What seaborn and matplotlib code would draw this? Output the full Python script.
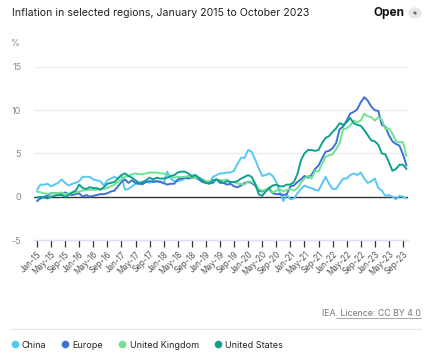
import numpy as np
import pandas as pd
import matplotlib
matplotlib.use("Agg")
import matplotlib.pyplot as plt
from matplotlib.lines import Line2D
from matplotlib.patches import FancyArrowPatch
import seaborn as sns

months = pd.date_range("2015-01-01", "2023-10-01", freq="MS")

china = [0.8,1.4,1.4,1.5,1.2,1.4,1.6,2.0,1.6,1.3,1.5,1.6,
         1.8,2.3,2.3,2.3,2.0,1.9,1.8,1.3,1.9,2.1,2.3,2.1,
         2.5,0.8,0.9,1.2,1.5,1.5,1.4,1.8,1.6,1.9,1.7,1.8,
         1.5,2.9,2.1,1.8,1.8,1.9,2.1,2.3,2.5,2.5,2.2,1.9,
         1.7,1.5,2.3,2.5,2.7,2.7,2.8,2.8,3.0,3.8,4.5,4.5,
         5.4,5.2,4.3,3.3,2.4,2.5,2.7,2.4,1.7,0.5,-0.5,0.2,
         -0.3,-0.2,0.4,0.9,1.3,1.1,1.0,0.8,0.7,1.5,2.3,1.5,
         0.9,0.9,1.5,2.1,2.1,2.5,2.7,2.5,2.8,2.1,1.6,1.8,
         2.1,1.0,0.7,0.1,0.2,0.0,-0.3,0.1,0.0,-0.2]
europe = [-0.5,-0.2,0.0,0.1,0.4,0.4,0.4,0.3,0.5,0.3,0.2,0.3,
          0.4,0.0,0.2,0.0,0.1,0.2,0.3,0.3,0.4,0.6,0.7,1.2,
          1.7,2.0,1.6,1.9,1.6,1.5,1.5,1.7,1.8,1.7,1.8,1.7,
          1.6,1.4,1.5,1.5,2.0,2.1,2.2,2.1,2.2,2.2,2.0,1.7,
          1.6,1.6,1.6,2.0,1.6,1.6,1.4,1.5,1.2,1.1,1.3,1.6,
          1.7,1.6,1.3,0.7,0.6,0.8,0.9,0.4,0.3,0.3,0.2,0.3,
          1.2,1.3,1.7,2.0,2.4,2.2,2.5,3.2,3.6,4.4,5.2,5.3,
          5.6,6.2,7.8,8.1,8.8,9.6,9.8,10.1,10.9,11.5,11.1,10.4,
          10.0,9.9,8.3,8.1,7.1,6.4,6.1,5.9,4.9,3.6]
uk = [0.6,0.5,0.4,0.3,0.4,0.4,0.4,0.5,0.3,0.4,0.4,0.5,
      0.6,0.7,0.8,0.8,0.8,0.8,0.9,0.9,1.0,1.2,1.4,1.7,
      2.0,2.3,2.4,2.6,2.7,2.6,2.6,2.7,2.8,2.8,2.8,2.7,
      2.7,2.5,2.3,2.2,2.3,2.3,2.3,2.4,2.2,2.2,2.2,2.0,
      1.8,1.8,1.8,2.0,1.9,1.9,2.0,1.7,1.7,1.5,1.5,1.4,
      1.8,1.7,1.5,0.9,0.7,0.8,1.1,0.5,0.7,0.9,0.6,0.8,
      0.9,0.7,1.0,1.6,2.1,2.4,2.1,3.0,2.9,3.8,4.6,4.8,
      4.9,5.5,6.2,7.8,7.9,8.2,8.8,8.6,8.8,9.6,9.3,9.2,
      8.8,9.2,8.9,7.8,7.9,7.3,6.4,6.3,6.3,4.7]
us = [-0.1,0.0,-0.1,-0.2,0.0,0.1,0.2,0.2,0.0,0.2,0.5,0.7,
      1.4,1.0,0.9,1.1,1.0,1.0,0.8,1.1,1.5,1.6,1.7,2.1,
      2.5,2.7,2.4,2.2,1.9,1.6,1.7,1.9,2.2,2.0,2.2,2.1,
      2.1,2.2,2.4,2.5,2.8,2.9,2.9,2.7,2.3,2.5,2.2,1.9,
      1.6,1.5,1.9,2.0,1.8,1.6,1.8,1.7,1.7,1.8,2.1,2.3,
      2.5,2.3,1.5,0.3,0.1,0.6,1.0,1.3,1.4,1.2,1.2,1.4,
      1.4,1.7,2.6,4.2,5.0,5.4,5.4,5.3,5.4,6.2,6.8,7.0,
      7.5,7.9,8.5,8.3,8.6,9.1,8.5,8.3,8.2,7.7,7.1,6.5,
      6.4,6.0,5.0,4.9,4.0,3.0,3.2,3.7,3.7,3.2]

series_names = ["China", "Europe", "United Kingdom", "United States"]
series_vals = [china, europe, uk, us]
colors = ["#57C8F6", "#3D72D4", "#6FE391", "#10A08E"]
y_ticks = [-5, 0, 5, 10, 15]

tick_idx = list(range(0, len(months), 4))
tick_labels = [months[i].strftime("%b-%y") for i in tick_idx]

frames = []
for name, vals in zip(series_names, series_vals):
    frames.append(pd.DataFrame({"idx": np.arange(len(months)), "value": vals, "region": name}))
df = pd.concat(frames, ignore_index=True)

sns.set_style("white")
plt.rcParams["font.family"] = ["Inter", "DejaVu Sans"]

fig = plt.figure(figsize=(4.30, 3.54), dpi=100)
ax = fig.add_axes([0.0786, 0.322, 0.870, 0.489])

for y in [5, 10, 15]:
    ax.axhline(y, color="#eeeeee", lw=1.0, zorder=0)
ax.axhline(0, color="#333333", lw=1.0, zorder=1)

sns.lineplot(data=df, x="idx", y="value", hue="region", palette=dict(zip(series_names, colors)),
             hue_order=series_names, linewidth=1.4, legend=False, ax=ax, zorder=3)

ax.set_xlim(-0.9, 105.4)
ax.set_ylim(-5, 15)
ax.set_yticks(y_ticks)
ax.set_yticklabels([str(v) for v in y_ticks], fontsize=6.5, color="#8a8a8a")
ax.set_xticks(tick_idx)
ax.set_xticklabels(tick_labels, rotation=45, ha="right", rotation_mode="anchor", fontsize=5.8, color="#555555")
ax.tick_params(axis="x", length=5, width=0.9, color="#333333", pad=2, direction="out", bottom=True)
ax.tick_params(axis="y", length=0, pad=9)
ax.set_xlabel("")
ax.set_ylabel("")
for s in ["top", "right", "left"]:
    ax.spines[s].set_visible(False)
ax.spines["bottom"].set_color("#d8e0f0")
ax.spines["bottom"].set_linewidth(1.0)

# header
fig.text(12/430, 1-13/354, "Inflation in selected regions, January 2015 to October 2023",
         fontsize=7.6, color="#222222", va="center", ha="left")
fig.text(404/430, 1-13/354, "Open", fontsize=8.5, fontweight="bold", color="#111111", va="center", ha="right")
fig.patches.append(plt.Circle((415/430, 1-13/354), 6/430, transform=fig.transFigure, color="#e8e8e8"))
# expand icon drawn as a double-headed diagonal arrow
cx, cy = 415/430, 1-13/354
arr = FancyArrowPatch((cx - 3/430, cy - 3/354), (cx + 3/430, cy + 3/354), transform=fig.transFigure,
                      arrowstyle="<->,head_length=1.2,head_width=0.9", color="#666666", lw=0.7)
fig.patches.append(arr)
fig.text(11/430, 1-44/354, "%", fontsize=6.5, color="#8a8a8a", va="center", ha="left")

# source
fig.text(421/430, 1-313/354, "IEA. Licence: CC BY 4.0", fontsize=6.3, color="#777777", va="center", ha="right")
fig.add_artist(Line2D([336/430, 421/430], [1-317.5/354, 1-317.5/354], color="#999999", lw=0.6,
                      transform=fig.transFigure))
fig.add_artist(Line2D([11/430, 421/430], [1-329/354, 1-329/354], color="#e6e6e6", lw=0.8,
                      transform=fig.transFigure))

# legend
handles = [Line2D([0], [0], marker="o", linestyle="", markersize=4.5, markerfacecolor=c,
                  markeredgecolor=c) for c in colors]
fig.legend(handles, series_names, loc="center left", bbox_to_anchor=(2/430, 1-345/354), ncol=4,
           frameon=False, fontsize=6.5, handletextpad=0.3, columnspacing=1.6, handlelength=1.0,
           labelcolor="#222222")

fig.savefig("out.png", dpi=100)
